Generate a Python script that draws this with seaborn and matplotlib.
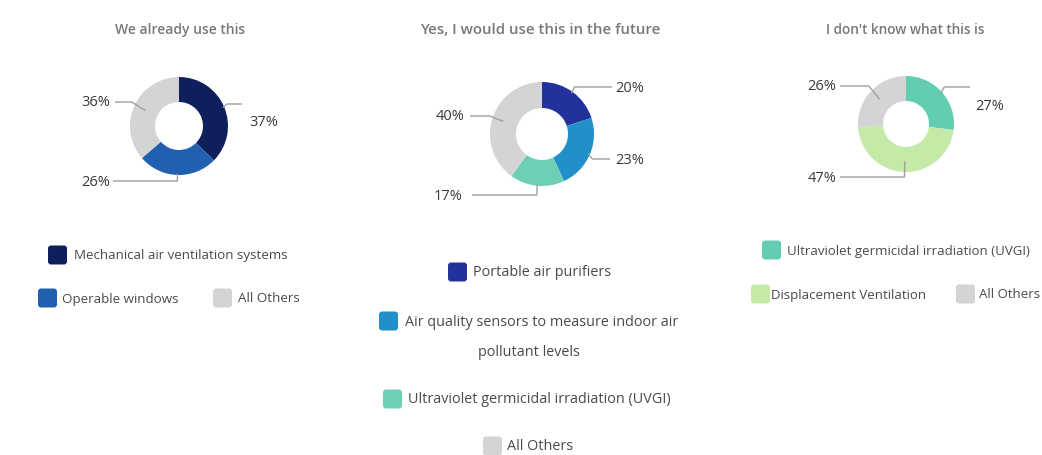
import numpy as np
import matplotlib
matplotlib.use("Agg")
import matplotlib.pyplot as plt
from matplotlib.patches import FancyBboxPatch
import seaborn as sns

# ---- data ----
titles = ["We already use this",
          "Yes, I would use this in the future",
          "I don't know what this is"]

used_labels = ["Mechanical air ventilation systems", "Operable windows", "All Others"]
used_values = [37, 26, 36]

future_labels = ["Portable air purifiers",
                 "Air quality sensors to measure indoor air\npollutant levels",
                 "Ultraviolet germicidal irradiation (UVGI)",
                 "All Others"]
future_values = [20, 23, 17, 40]

unknown_labels = ["Ultraviolet germicidal irradiation (UVGI)", "Displacement Ventilation", "All Others"]
unknown_values = [27, 47, 26]

used_colors = ["#0e1f5b", "#2160b0", "#d4d4d4"]
future_colors = ["#22319c", "#2190c9", "#6dd0b6", "#d4d4d4"]
unknown_colors = ["#62cdb0", "#c5eaa8", "#d4d4d4"]

# ---- style ----
sns.set_theme(style="white")
plt.rcParams["font.family"] = ["Open Sans", "DejaVu Sans"]

W, H = 1042, 456
fig = plt.figure(figsize=(W / 100, H / 100), dpi=100)
ax = fig.add_axes([0, 0, 1, 1])


def Y(py):
    return H - py


LINE_C = "#a0a0a0"
TXT_C = "#3a3a3a"
LEG_C = "#4a4a4a"
TITLE_C = "#787878"

# layout of each panel: donut geometry, label placement, legend placement
panels = [
    dict(values=used_values, labels=used_labels, colors=used_colors, title=titles[0],
         cx=179, cy=127, R=49, r_in=24, title_xy=(180, 30), title_fs=10.0,
         leaders=[(105, 242, 0.97, (249, 122, "left")),
                  (182, 113, 0.97, (110, 182, "right")),
                  (103, 115, 0.75, (110, 102, "right"))],
         legend=[(48, 256, 74), (38, 299, 62), (213, 299, 238)],
         legend_fs=9.65),
    dict(values=future_values, labels=future_labels, colors=future_colors, title=titles[1],
         cx=542, cy=135, R=52, r_in=26, title_xy=(540, 30), title_fs=10.8,
         leaders=[(88, 612, 0.97, (615, 88, "left")),
                  (160, 610, 0.97, (615, 160, "left")),
                  (196, 472, 0.97, (463, 196, "right")),
                  (117, 470, 0.78, (465, 117, "right"))],
         legend=[(448, 273, 473), (379, 322, 405), (383, 400, 408), (483, 447, 507)],
         legend_fs=10.35),
    dict(values=unknown_values, labels=unknown_labels, colors=unknown_colors, title=titles[2],
         cx=906, cy=125, R=48, r_in=23, title_xy=(905, 30), title_fs=9.8,
         leaders=[(88, 970, 0.97, (975, 106, "left")),
                  (178, 840, 0.78, (836, 178, "right")),
                  (87, 840, 0.75, (836, 87, "right"))],
         legend=[(762, 251, 787), (751, 295, 771), (956, 295, 979)],
         legend_fs=9.5),
]

for p in panels:
    vals = np.asarray(p["values"], dtype=float)
    ax.pie(vals, colors=p["colors"], startangle=90, counterclock=False,
           radius=p["R"], center=(p["cx"], Y(p["cy"])), frame=True,
           wedgeprops=dict(width=p["R"] - p["r_in"], edgecolor="none", linewidth=0))

    ax.text(p["title_xy"][0], Y(p["title_xy"][1]), p["title"], ha="center", va="center",
            fontsize=p["title_fs"], color=TITLE_C, fontweight="semibold")

    frac = vals / vals.sum()
    mids = np.cumsum(frac) - frac / 2
    for v, m, (line_y, end_x, r0, (lx, ly, ha)) in zip(p["values"], mids, p["leaders"]):
        th = np.deg2rad(90 - 360 * m)
        sx = p["cx"] + p["R"] * r0 * np.cos(th)
        sy = p["cy"] - p["R"] * r0 * np.sin(th)
        ex = p["cx"] + (p["R"] + 3) * np.cos(th)
        ax.plot([sx, ex, end_x], [Y(sy), Y(line_y), Y(line_y)], color=LINE_C, lw=1.0,
                solid_capstyle="butt", zorder=5)
        ax.text(lx, Y(ly), f"{v}%", ha=ha, va="center", fontsize=10.5, color=TXT_C, zorder=6)

    sq = 19
    for lab, col, (sx, yc, tx) in zip(p["labels"], p["colors"], p["legend"]):
        ax.add_patch(FancyBboxPatch((sx, Y(yc) - sq / 2), sq, sq,
                                    boxstyle="round,pad=0,rounding_size=3",
                                    facecolor=col, edgecolor="none"))
        parts = lab.split("\n")
        ax.text(tx, Y(yc), parts[0], ha="left", va="center",
                fontsize=p["legend_fs"], color=LEG_C)
        if len(parts) > 1:
            ax.text(529, Y(yc + 30), parts[1], ha="center", va="center",
                    fontsize=p["legend_fs"], color=LEG_C)

ax.set_xlim(0, W)
ax.set_ylim(0, H)
ax.set_aspect("auto")
ax.axis("off")

fig.savefig("out.png", dpi=100, facecolor="white")
